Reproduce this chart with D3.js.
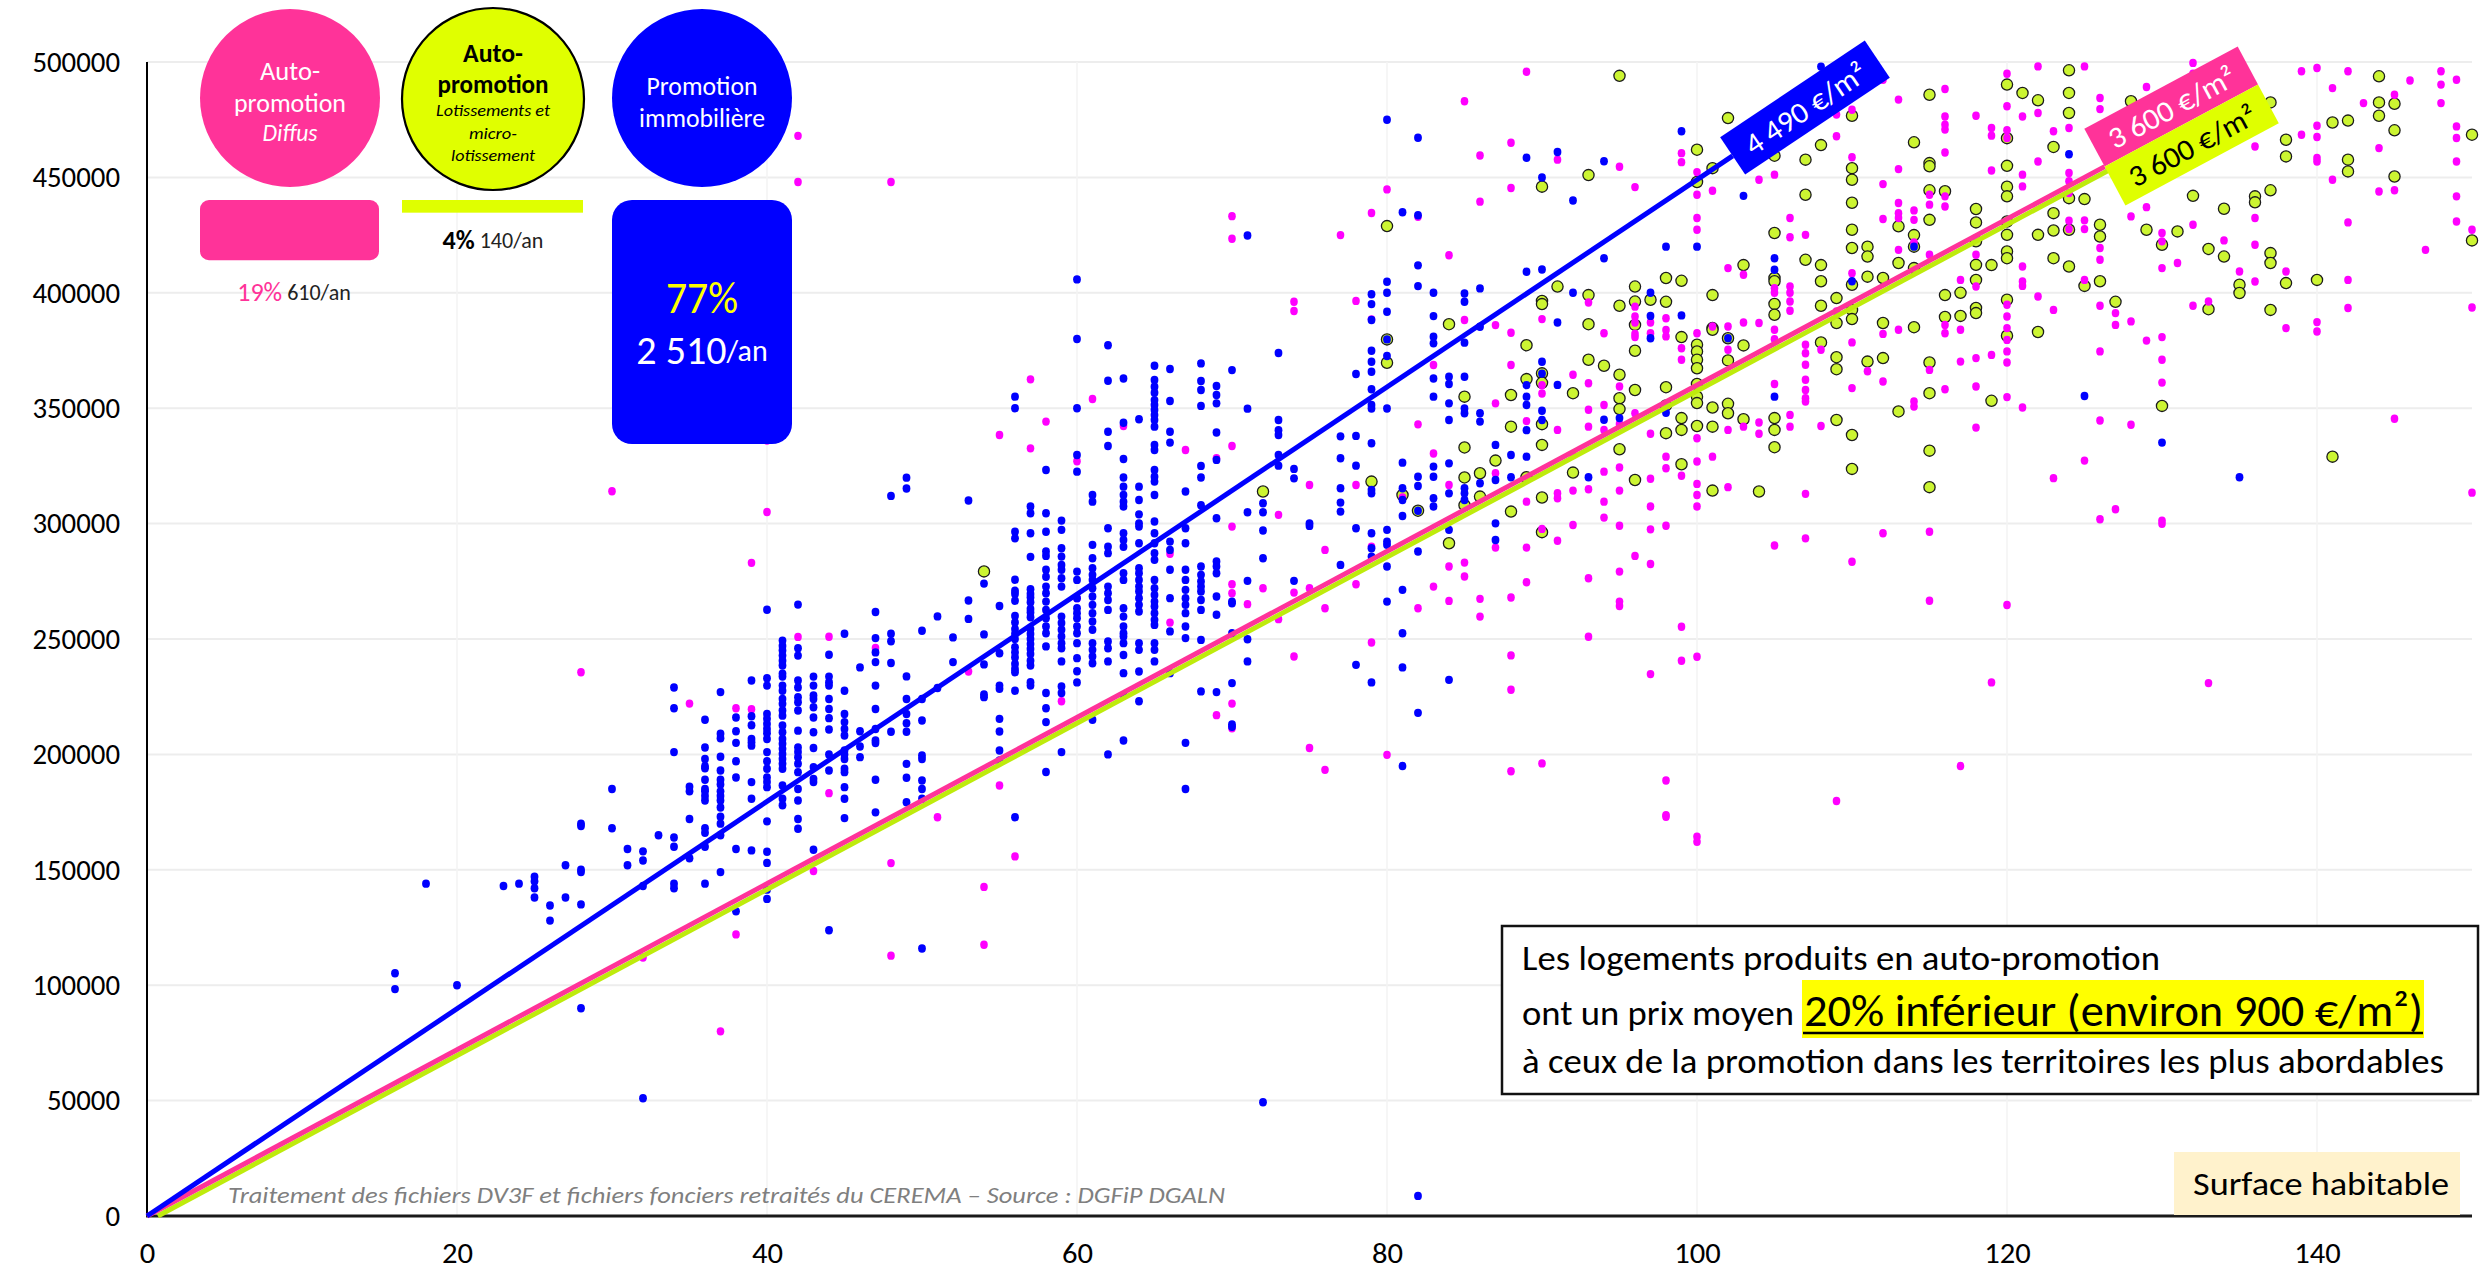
<!DOCTYPE html>
<html lang="fr">
<head>
<meta charset="utf-8">
<title>Prix des logements neufs selon la surface habitable</title>
<script src="https://cdn.jsdelivr.net/npm/d3@7"></script>
<style>
  html, body { margin: 0; padding: 0; background: #ffffff; }
  svg { display: block; }
</style>
</head>
<body>
<svg id="chart" width="2484" height="1272"></svg>
<script>
// ---------- Data ----------
// Axis ticks
const xTicks = [0, 20, 40, 60, 80, 100, 120, 140];
const yTicks = [0, 50000, 100000, 150000, 200000, 250000, 300000, 350000, 400000, 450000, 500000];

// Sales: [surface (m²), [prices in thousands of €]]
const promotionCols = [
  [16,[105.2,98.3]],[18,[144]],[20,[100]],[23,[143]],[24,[144]],
  [25,[147,145,142,138]],[26,[134.5,128]],[27,[152,138]],
  [28,[170,169,150,149,135,90]],[30,[185,168]],[31,[159,152]],
  [32,[158,154,143,51]],[33,[165]],
  [34,[229,220,201,164,160,144,142]],[35,[186,184,172,155]],
  [36,[215,203,198,195,194,189,185,184,182,180,168,166,160,144]],
  [37,[227,209,207,199,193,189,187,184,182,180,177,173,170,165,149]],
  [38,[216,210,205,197,190,159,132]],
  [39,[232,216.5,212.6,206.7,205.3,203.8,188,180.8,158.4]],
  [40,[262.7,233,229.8,217.5,215.4,213.2,211,209.2,206.7,201,197,193.8,190,188,185.8,171,157.8,153,141.4,137.4]],
  [41,[249.3,247,245,242.8,240.6,238.5,235,233.7,229.8,227.6,224,221.9,219,216.8,212.5,209.6,206.7,204.6,202.4,200.2,198,196,193.8,186.5,180.8,178]],
  [42,[264.9,246,242.8,232,229,224.8,222.6,219,210.3,203,201,198.8,196,192.3,185,180,172,167.8]],
  [43,[233.7,229.8,225.5,224,220.4,216,209.6,202.8,194.5,189.4,188,158.7]],
  [44,[243.2,233.7,231.3,229.8,224,219.7,215.7,210.8,200,193,123.8]],
  [45,[252.3,227.6,217.5,214,211,208.2,201.7,200,198,193.8,192.3,185.8,180.8,172.4]],
  [46,[237.7,210,203.4,198.8]],
  [47,[261.7,250.4,244.2,240,229.8,219.7,211,206,204.9,189,174.9]],
  [48,[312,252.3,249,239.6,209.8]],
  [49,[319.9,315.2,233.8,224,217.5,213.5,209.8,195.9,189.9,179.3]],
  [50,[253.6,224,214.7,199.5,198,188.7,185,180.8,115.9]],
  [51,[259.8,228.8]],[52,[250.7,240]],[53,[310,266.7,258.7]],
  [54,[274,252,239,226,224.8]],
  [55,[264.3,243.8,229.8,228.4,215.4,209.9,201.7,197.4]],
  [56,[355,350,296.5,293.6,275.7,270.9,269.5,266.6,260,257.2,254.3,252.2,250,246.4,244.2,242,239.2,237,235.6,227.6,172.8]],
  [57,[307.4,304.5,295.8,285.6,271.6,269.5,268,265.9,263,261.5,259.4,254.3,252.2,250,247.8,245.7,243.5,240.6,238.5,231.3,229.8]],
  [58,[323.2,304.5,296.5,287.9,286,280,277,272.7,269.8,266.2,262.6,259,255.4,252.5,246.8,226.6,220,214,192.4]],
  [59,[301.3,297.3,289.3,285.7,282.1,280,276.3,272.7,259.7,256.9,254,251.1,248.2,246,240.3,229.4,226.6,201]],
  [60,[405.8,380,350,329.7,322.5,279.2,275.6,267.7,263.3,261.2,259,255.4,252.5,248.2,241.7,236,231.2]],
  [61,[312.4,309.5,290.8,285,280.7,277.8,275.6,272,268.4,264.8,261.2,257.6,254,248.2,245.3,242.4,239.5,215]],
  [62,[377.3,361.9,339.8,333.6,298,290,287.2,272.7,269.8,266.9,262.6,248.9,246,240.3,200]],
  [63,[362.9,343.7,328,320,316,312.4,309.5,307.4,295.8,292.9,290,278.5,275.6,263.3,259.7,255.4,252.5,251.1,248.2,243.1,235.2,225.5,206]],
  [64,[345.2,316,310.2,304,300.1,298.7,291.5,280.7,278.5,275.6,272.7,270.6,267.7,264.8,261.9,248.2,245.3,235.9,223]],
  [65,[368.4,362.2,359.3,356.7,353.5,351.4,349.2,347,344.9,342,334.1,331.9,323.2,320.3,318.2,312.4,300.9,295.8,291.5,287.2,284.3,275.6,272,269.1,266.2,264.1,261.2,258.3,256.1,248.2,245.3,240.3]],
  [66,[367,353.1,339.8,335.1,292.2,288.6,280,267.7,253.3,235.2]],
  [67,[313.9,298,291.5,280,275.6,271.3,267.7,264.8,261.2,255.4,250.4,205,185]],
  [68,[369.4,361.8,357.9,351,325,320,308,281.4,277.8,274.9,272.7,270.6,266.9,262.6,249.6,227.3]],
  [69,[359.6,355.7,352.1,339.5,327.6,302.3,283.6,281.4,278.5,268.4,260.5,227]],
  [70,[366.5,266.2,265.5,252.5,230.9,213,212]],
  [71,[424.8,349.8,304.9,275.2,249.9,240.3]],
  [72,[308.8,304.9,297,285,49.3]],
  [73,[373.9,344.9,340.5,338.4,329.7,325.1]],
  [74,[323.7,319.6,275.2]],[75,[300.1,299]],
  [77,[337.8,328.3,315.3,309.1,305.2,282.1]],
  [78,[364.8,338,325.1,298,238.8]],
  [79,[399.4,395.1,388.2,374.9,370.1,365.8,358.2,351.4,349.9,334.8,314.6,313.1,295.8,289.3,285.7,231.2]],
  [80,[475,404.8,400,391.8,379.8,372.6,349.9,297.3,292.2,290.8,281.4,266.2]],
  [81,[434.9,326.4,315.3,310.2,303.3,271.3,252.5,237.7,195]],
  [82,[467.2,433.6,411.9,402.9,320.3,316.3,305.6,287.9,218,8.7]],
  [83,[400,389.9,381,378.1,362.9,355,324.7,320.3,311,307.4]],
  [84,[363.6,360.5,352.1,344.9,326.1,313.1,297.3,232.3]],
  [85,[399.7,396.1,378.4,363.6,349.9,347.8,315.3,313.1,310.2]],
  [86,[401.9,385.3,347.8,344.2,317.5]],
  [87,[334.1,318.9,300.1,292.9]],[88,[329.7,320.1]],
  [89,[458.5,409.1,360,355,351.4,340.5,329]],
  [90,[450,410.1,370.1,365,348.9,344.9]],
  [91,[461,387.1,360.1]],[92,[440,400]],[93,[320.1]],[94,[457,415,345]],
  [95,[345.7]],[97,[400,390,380.3]],[98,[420,348]],[99,[470,390.2]],
  [100,[420]],[102,[380.3]],[103,[442]],[105,[415,410,355]],[108,[498]],
  [110,[405]],[114,[420]],[124,[460]],[125,[355.3]],[130,[335.1]],[135,[320.1]]
];

const diffusCols = [
  [28,[235.6]],[30,[314]],[32,[112]],[35,[222]],[37,[80]],[38,[220,122]],
  [39,[283,219.6]],[40,[336,305]],[42,[468,448,250.9]],[43,[149.5]],
  [44,[251,183.2]],[47,[246.1]],[48,[448,152.9,112.8]],[51,[172.8]],
  [53,[235.9]],[54,[142.6,117.5]],[55,[338.4,186.5]],[56,[155.8]],
  [57,[362.5,332.6]],[58,[344.2]],[59,[223]],[60,[327,267.7]],[61,[354]],
  [63,[342.3]],[66,[286.9,257.1]],[67,[331.9]],[69,[328.3,217]],
  [70,[433.2,423.4,333.6,298.7,273.7,269.8,222,211.3]],[71,[265.1]],[72,[272]],
  [73,[303.8,258.6]],[74,[396.1,392.1,270.1,242.4]],[75,[316.7,272,202.8]],
  [76,[288.6,263.3,193.3]],[77,[425]],[78,[396.5,316.7,273.7]],
  [79,[434.6,388.5,290,248.5]],[80,[444.8,199.8]],[81,[311.3]],
  [82,[432.9,343,263.3]],[83,[368.7,330.4,272.7]],[84,[416.3,316.7,281.4,266.5]],
  [85,[483,388.2,283.1,277.1]],[86,[459.5,439.5,267.4,259.7]],
  [87,[386,352.1,321.8,289.6]],[88,[465,445.4,382.7,368.7,268,242.9,228,192.7]],
  [89,[495.8,344.4,309.5,289.6,274.6]],[90,[388.6,360,356.4,297.7,196.1]],
  [91,[457.7,340.6,313.2,311,292.6]],[92,[364.5,329.8,314.3,299.4]],
  [93,[395.8,360.8,349.3,342,314.9,276.3,251]],
  [94,[382.5,351.4,340.6,322.5,309.5,302.6]],
  [95,[454.6,359.4,343.2,324.3,314.3,299.1,279.2,266.2,264.3]],
  [96,[445.8,394,389.7,387.1,382.2,380.8,347.8,286]],
  [97,[387.1,382.5,338.9,319.4,307.4,297.5,282.5,234.8]],
  [98,[389,383.9,381.1,329,324,299.1,188.7,173.7,173]],
  [99,[460.5,456.6,376,371,320.7,255.3,240.6]],
  [100,[452.3,442.5,432.4,427.3,382.5,337,326.9,317.2,312.4,307.4,242.3,164.3,162.1]],
  [101,[444.2,385.4,329]],[102,[410.7,385.4,375.3,340.6,315.8]],
  [103,[407.8,387.1,342]],[104,[449,386.9,343.8,338.9]],
  [105,[451.2,402,400,384,379.9,360.5,290.5]],
  [106,[432.4,424.1,402.7,400,396.2,392.2,347.1,342]],
  [107,[425.1,377.5,373.8,368.8,362.3,357.9,354.3,352.9,312.9,293.6]],
  [108,[375.3,342.3]],[109,[477.2,467.8,391.9,179.8]],
  [110,[479.3,458.7,408.5,378.5,358.7,283.5]],[111,[366]],
  [112,[492.3,447.1,432,382.2,361.6,295.8]],
  [113,[483.7,453.6,438.9,434.5,432.4,418.6,384]],
  [114,[435.7,431.6,421.8,352.9,350.7]],
  [115,[442.5,438.2,416.5,366.6,296.5,266.6]],
  [116,[488.3,476.4,472.8,470.7,460.8,441.8,437.4,386.1,382.5,358.2]],
  [117,[405.6,384,370.2,195]],
  [118,[476.7,423.7,416.5,402.7,371.7,359.4,341.6]],
  [119,[471.4,468.1,453,373.1,231.2]],
  [120,[494.9,480.8,470.4,467.1,394.8,389.7,384.7,379.6,374.6,369.8,354.8,264.7]],
  [121,[476.4,451.2,446.1,411.4,404.9,403,350.3]],
  [122,[498.1,477.9,456.9,398.4]],[123,[470,392.6,319.7]],
  [124,[471.4,451.9,448.3,443.2,431.2,427.6]],
  [125,[498.1,431.4,427.6,405.6,327.3]],
  [126,[484.4,479.6,419.4,414.3,394.4,374.6,344.7,301.9]],
  [127,[391.2,386.1,306.2]],[128,[433.1,387.6,342.8]],[129,[489.2,437.1,379.3]],
  [130,[425.9,422.3,410.7,380.8,371,361.1,301.3,299.9]],[131,[412.9]],
  [132,[499.6,494.9,429.5,394.4]],[133,[396.2,230.9]],[134,[422.7]],[135,[409.2]],
  [136,[463.4,432.4,420.8,404.9]],[138,[409.2,384.7]],[139,[496,468.5]],
  [140,[497.4,472.4,467.5,458.4,456.9,387.3,383.2]],[141,[488.7,449]],
  [142,[496,430.5,405.6,393.4]],[143,[482.2]],[144,[462.7,443.9]],
  [145,[485.8,444.4,345.4]],[146,[492]],[147,[418.6]],[148,[496,490.2,482.2]],
  [149,[492.3,472.1,467.1,456.9,441.8,430.9]],[150,[427.3,393.6,313.4]]
];

const lotissementCols = [
  [54,[279.3]],[72,[313.9]],[79,[318.2]],[80,[428.9,379.8,369.7]],[81,[312.4]],
  [82,[305.6]],[84,[386.4,291.5]],[85,[355,333,320,308]],[86,[321.8,311.7]],
  [87,[327.3]],[88,[355.7,342,305.2]],[89,[377.3,362.6,320.1]],
  [90,[446,396.5,395.1,365.1,361,343.1,334.1,311.3,296.3]],
  [91,[402.7]],[92,[356.5,322.1]],[93,[451,399,386.4,371]],[94,[368.4]],
  [95,[494,394.4,364.5,354.3,349.6,332.2]],
  [96,[402.7,396.2,386.1,374.9,357.9,318.9]],[97,[397]],
  [98,[406.4,396.1,359.1,351.2,339.2]],[99,[405.2,380.8,345.7,340.6,325.7]],
  [100,[462,448,377.5,374.6,371,367.3,360.5,355,352.2,342.3]],
  [101,[454,399,384.7,384,350.3,342,314.3]],
  [102,[475.7,380.3,370.7,351.9,347.8]],[103,[412,377.2,345.2]],[104,[313.9]],
  [105,[459.4,425.9,406.4,405,395.2,390.5,345.7,340.6,333.1]],
  [107,[457.7,442.5,414.3]],[108,[464,412,405,394.4,378.5]],
  [109,[397.7,386.9,372.1,366.9,344.9]],
  [110,[476.7,454,449,439,427.3,419.4,403.5,392.6,388.6,338.4,323.7]],
  [111,[420,415.7,407,370.2]],[112,[406.4,386.9,371.7]],[113,[428.8,412.9,348.6]],
  [114,[465.2,425,420,410.7,385.1]],
  [115,[485.8,456.2,454.8,444.4,431.6,369.8,356.5,331.6,315.8]],
  [116,[444,399,389.5]],[117,[400,390]],
  [118,[436.3,430.5,422.3,412.1,405.6,393.4,391.2]],[119,[412,353.2]],
  [120,[490.2,467,455,446,441.8,430.9,425.1,417.9,415,397,381.4]],
  [121,[486.6]],[122,[483.4,425.1,383]],[123,[463.2,434.5,427,415]],
  [124,[496.4,486.6,477.9,441,427.3,411.4]],[125,[440.6,403]],
  [126,[429.5,424.4,405]],[127,[396.1]],[128,[483]],[129,[427.3]],
  [130,[420.8,351]],[131,[426.6]],[132,[442]],[133,[419,392.9]],
  [134,[436.4,415.7]],[135,[403.5,399.9]],[136,[441.8,439.2]],
  [137,[482.5,444.4,417.2,412.9,392.6]],[138,[466.3,459.1,404.2]],
  [140,[405.6]],[141,[473.8,329]],[142,[474.6,457.7,452.6]],
  [144,[493.8,482.5,476.7]],[145,[481.9,470.4,450.4]],[150,[468.5,422.7]]
];

// Average price per m² (trend lines) and their extent along the surface axis
const trendKeys       = ["lotissement", "diffus", "promotion"];
const trendSlopes     = [3600, 3600, 4490];
const trendIntercepts = [-2500, 0, 0];
const trendStart      = [0.7, 0, 0];
const trendEnd        = [126.5, 126.3, 102.3];
const trendLabels     = ["3 600 €/m²", "3 600 €/m²", "4 490 €/m²"];

// Production split
const segmentNames = ["Auto-promotion diffus", "Auto-promotion lotissements", "Promotion immobilière"];
const segmentShare = [19, 4, 77];
const segmentPerYear = ["610", "140", "2 510"];

// ---------- Drawing ----------
const FONT = "Carlito, Calibri, 'Liberation Sans Narrow', 'DejaVu Sans Condensed', 'Open Sans', sans-serif";
const svg = d3.select("#chart").style("font-family", FONT);

const x = d3.scaleLinear().domain([0, 150]).range([147, 2472]);
const y = d3.scaleLinear().domain([0, 500000]).range([1216, 62]);

const colors = { promotion: "#0000FF", diffus: "#FF00FF", lotissement: "#CCF532" };
const lineColors = { promotion: "#0000FF", diffus: "#FF3399", lotissement: "#BEEB0C" };

// gridlines
svg.append("g").selectAll("line").data(yTicks.filter(d => d > 0)).join("line")
  .attr("x1", x(0)).attr("x2", x(150))
  .attr("y1", d => y(d)).attr("y2", d => y(d))
  .attr("stroke", "#EDEDED").attr("stroke-width", 2);
svg.append("g").selectAll("line").data(xTicks.filter(d => d > 0)).join("line")
  .attr("x1", d => x(d)).attr("x2", d => x(d))
  .attr("y1", y(0)).attr("y2", y(500000))
  .attr("stroke", "#F3F3F3").attr("stroke-width", 1.5);

// axes
const yAxis = svg.append("g").attr("transform", `translate(${x(0)},0)`)
  .call(d3.axisLeft(y).tickValues(yTicks).tickSize(0).tickPadding(27).tickFormat(d3.format("d")));
yAxis.select(".domain").remove();
yAxis.selectAll("text").attr("font-size", 29).attr("fill", "#000").attr("font-family", FONT)
  .attr("textLength", d => String(d).length * 14.6).attr("lengthAdjust", "spacingAndGlyphs");

const xAxis = svg.append("g").attr("transform", `translate(0,${y(0)})`)
  .call(d3.axisBottom(x).tickValues(xTicks).tickSize(0).tickPadding(27).tickFormat(d3.format("d")));
xAxis.select(".domain").remove();
xAxis.selectAll("text").attr("font-size", 28).attr("fill", "#000").attr("font-family", FONT)
  .attr("textLength", d => String(d).length * 15.5).attr("lengthAdjust", "spacingAndGlyphs");

// points
const flat = cols => cols.flatMap(([s, vs]) => vs.map(v => ({ s, p: v * 1000 })));

svg.append("g").selectAll("circle").data(flat(lotissementCols)).join("circle")
  .attr("cx", d => x(d.s)).attr("cy", d => y(d.p)).attr("r", 5.6)
  .attr("fill", colors.lotissement).attr("stroke", "#1b1b1b").attr("stroke-width", 1.3);
svg.append("g").selectAll("ellipse").data(flat(diffusCols)).join("ellipse")
  .attr("cx", d => x(d.s)).attr("cy", d => y(d.p)).attr("rx", 3.8).attr("ry", 4.2)
  .attr("fill", colors.diffus);
svg.append("g").selectAll("ellipse").data(flat(promotionCols)).join("ellipse")
  .attr("cx", d => x(d.s)).attr("cy", d => y(d.p)).attr("rx", 3.9).attr("ry", 4.2)
  .attr("fill", colors.promotion);

// axis lines
svg.append("line").attr("x1", x(0)).attr("x2", x(0)).attr("y1", y(500000)).attr("y2", y(0))
  .attr("stroke", "#000").attr("stroke-width", 2);
svg.append("line").attr("x1", x(0) - 1).attr("x2", x(150)).attr("y1", y(0)).attr("y2", y(0))
  .attr("stroke", "#1a1a1a").attr("stroke-width", 3);

// trend lines
trendKeys.forEach((k, i) => {
  const f = s => trendSlopes[i] * s + trendIntercepts[i];
  svg.append("line")
    .attr("x1", x(trendStart[i])).attr("y1", y(f(trendStart[i])))
    .attr("x2", x(trendEnd[i])).attr("y2", y(f(trendEnd[i])))
    .attr("stroke", lineColors[k]).attr("stroke-width", 5).attr("stroke-linecap", "butt");
});

// slope labels, laid along each line from its end point
function lineAngle(i) {
  const dx = x(100) - x(0);
  const dy = y(trendSlopes[i] * 100) - y(0);
  return Math.atan2(dy, dx) * 180 / Math.PI;
}
function endPoint(i) {
  const s = trendEnd[i];
  return [x(s), y(trendSlopes[i] * s + trendIntercepts[i])];
}
function slopeLabel(i, anchorIdx, y0, h, fill, textFill) {
  const [px, py] = endPoint(anchorIdx);
  const g = svg.append("g").attr("transform", `translate(${px},${py}) rotate(${lineAngle(i)})`);
  const w = 174;
  g.append("rect").attr("x", 0).attr("y", y0).attr("width", w).attr("height", h).attr("fill", fill);
  g.append("text").attr("x", w / 2).attr("y", y0 + h / 2 + 1)
    .attr("text-anchor", "middle").attr("dominant-baseline", "central")
    .attr("font-size", 30).attr("fill", textFill).attr("font-family", FONT)
    .attr("textLength", 140).attr("lengthAdjust", "spacingAndGlyphs")
    .text(trendLabels[i]);
}
slopeLabel(2, 2, -22.5, 45, "#0000FF", "#FFFFFF");
slopeLabel(1, 1, -43, 43, "#FF3399", "#FFFFFF");
slopeLabel(0, 1, 0, 44, "#DFFF00", "#000000");

// ---------- Split of production (top-left) ----------
const lg = svg.append("g");
const barScale = d3.scaleLinear().domain([0, 77]).range([0, 244]);
const circ = [
  { cx: 290, cy: 98, rx: 90, ry: 89, fill: "#FF3399", stroke: "none" },
  { cx: 493, cy: 99, rx: 91, ry: 91, fill: "#E0FF00", stroke: "#000" },
  { cx: 702, cy: 98, rx: 90, ry: 89, fill: "#0000FF", stroke: "none" }
];
circ.forEach(c => lg.append("ellipse").attr("cx", c.cx).attr("cy", c.cy).attr("rx", c.rx).attr("ry", c.ry)
  .attr("fill", c.fill).attr("stroke", c.stroke).attr("stroke-width", 2.2));

function ctext(xc, yc, str, size, fill, opts = {}) {
  const t = lg.append("text").attr("x", xc).attr("y", yc)
    .attr("text-anchor", "middle").attr("dominant-baseline", "central")
    .attr("font-size", size).attr("fill", fill).attr("font-family", FONT)
    .attr("font-style", opts.italic ? "italic" : "normal")
    .attr("font-weight", opts.bold ? "bold" : "normal")
    .text(str);
  if (opts.len) t.attr("textLength", opts.len).attr("lengthAdjust", "spacingAndGlyphs");
  return t;
}
ctext(290, 70, "Auto-", 27, "#fff", { len: 60 });
ctext(290, 102, "promotion", 27, "#fff", { len: 112 });
ctext(290, 132, "Diffus", 24, "#fff", { italic: true, len: 55 });

ctext(493, 52, "Auto-", 27, "#000", { bold: true, len: 60 });
ctext(493, 83, "promotion", 27, "#000", { bold: true, len: 111 });
ctext(493, 110, "Lotissements et", 17, "#000", { italic: true, len: 114 });
ctext(493, 133, "micro-", 17, "#000", { italic: true, len: 48 });
ctext(493, 155, "lotissement", 17, "#000", { italic: true, len: 84 });

ctext(702, 85, "Promotion", 27, "#fff", { len: 111 });
ctext(702, 117, "immobilière", 27, "#fff", { len: 126 });

// share bars
const barTop = 200;
lg.append("rect").attr("x", 200).attr("y", barTop).attr("width", 179).attr("height", barScale(segmentShare[0]))
  .attr("rx", 9).attr("fill", "#FF3399");
lg.append("rect").attr("x", 402).attr("y", barTop).attr("width", 181).attr("height", barScale(segmentShare[1]))
  .attr("fill", "#DFFF00");
lg.append("rect").attr("x", 612).attr("y", barTop).attr("width", 180).attr("height", barScale(segmentShare[2]))
  .attr("rx", 20).attr("fill", "#0000FF");

// share labels
const t1 = lg.append("text").attr("x", 294).attr("y", 292).attr("text-anchor", "middle")
  .attr("dominant-baseline", "central").attr("font-family", FONT);
t1.append("tspan").attr("font-size", 26).attr("fill", "#FF3399").text(segmentShare[0] + "%");
t1.append("tspan").attr("font-size", 22).attr("fill", "#222").text(" " + segmentPerYear[0] + "/an");

const t2 = lg.append("text").attr("x", 493).attr("y", 240).attr("text-anchor", "middle")
  .attr("dominant-baseline", "central").attr("font-family", FONT);
t2.append("tspan").attr("font-size", 26).attr("font-weight", "bold").attr("fill", "#000").text(segmentShare[1] + "%");
t2.append("tspan").attr("font-size", 22).attr("fill", "#222").text(" " + segmentPerYear[1] + "/an");

ctext(702, 297, segmentShare[2] + "%", 46, "#FFFF00", { len: 72 });
const t3 = lg.append("text").attr("x", 702).attr("y", 350).attr("text-anchor", "middle")
  .attr("dominant-baseline", "central").attr("font-family", FONT);
t3.append("tspan").attr("font-size", 40).attr("fill", "#fff").text(segmentPerYear[2]);
t3.append("tspan").attr("font-size", 30).attr("fill", "#fff").text("/an");

// ---------- Annotation box ----------
const box = svg.append("g");
box.append("rect").attr("x", 1502).attr("y", 926).attr("width", 976).attr("height", 168)
  .attr("fill", "#fff").attr("stroke", "#111").attr("stroke-width", 2.5);
box.append("text").attr("x", 1522).attr("y", 970).attr("font-size", 34).attr("font-family", FONT)
  .attr("textLength", 638).attr("lengthAdjust", "spacingAndGlyphs")
  .text("Les logements produits en auto-promotion");
box.append("text").attr("x", 1522).attr("y", 1025).attr("font-size", 34).attr("font-family", FONT)
  .attr("textLength", 272).attr("lengthAdjust", "spacingAndGlyphs")
  .text("ont un prix moyen");
box.append("rect").attr("x", 1802).attr("y", 980).attr("width", 622).attr("height", 58).attr("fill", "#FFFF00");
box.append("text").attr("x", 1804).attr("y", 1026).attr("font-size", 46).attr("font-family", FONT)
  .attr("textLength", 619).attr("lengthAdjust", "spacingAndGlyphs")
  .text("20% inférieur (environ 900 €/m²)");
box.append("line").attr("x1", 1803).attr("x2", 2423).attr("y1", 1033).attr("y2", 1033)
  .attr("stroke", "#000").attr("stroke-width", 2.5);
box.append("text").attr("x", 1522).attr("y", 1073).attr("font-size", 34).attr("font-family", FONT)
  .attr("textLength", 922).attr("lengthAdjust", "spacingAndGlyphs")
  .text("à ceux de la promotion dans les territoires les plus abordables");

// axis title
svg.append("rect").attr("x", 2174).attr("y", 1152).attr("width", 286).attr("height", 63).attr("fill", "#FFF2CC");
svg.append("text").attr("x", 2193).attr("y", 1195).attr("font-size", 32).attr("font-family", FONT)
  .attr("textLength", 256).attr("lengthAdjust", "spacingAndGlyphs").text("Surface habitable");

// source
svg.append("text").attr("x", 228).attr("y", 1203).attr("font-size", 23).attr("font-style", "italic")
  .attr("fill", "#7F7F7F").attr("font-family", FONT)
  .attr("textLength", 997).attr("lengthAdjust", "spacingAndGlyphs")
  .text("Traitement des fichiers DV3F et fichiers fonciers retraités du CEREMA – Source : DGFiP DGALN");
</script>
</body>
</html>
